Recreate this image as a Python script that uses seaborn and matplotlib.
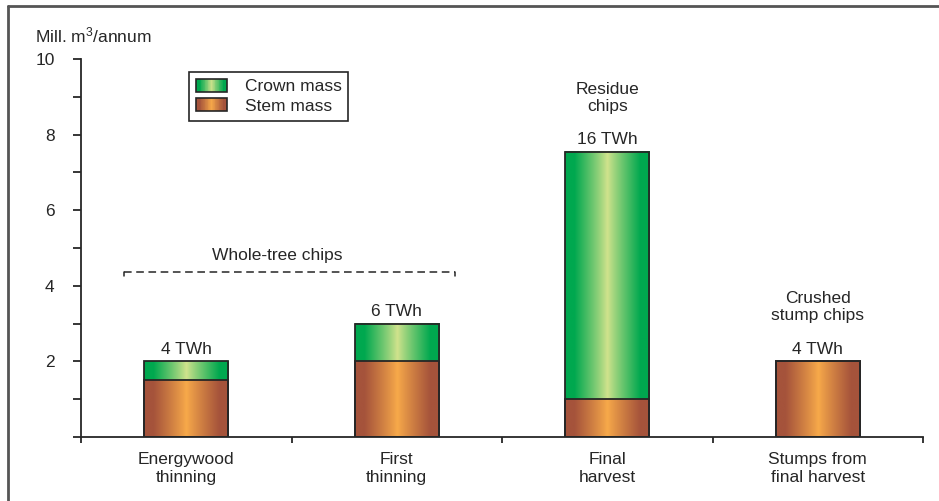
import numpy as np
import matplotlib
matplotlib.use("Agg")
import matplotlib.pyplot as plt
import seaborn as sns
import pandas as pd
from matplotlib.colors import to_rgb
from matplotlib.legend_handler import HandlerBase
from matplotlib.patches import Rectangle, Patch
from matplotlib.lines import Line2D

# ---- data -------------------------------------------------------------
categories = ["Energywood\nthinning", "First\nthinning", "Final\nharvest",
              "Stumps from\nfinal harvest"]
stem_mass = [1.5, 2.0, 1.0, 2.0]        # Mill. m3/annum
crown_mass = [0.5, 1.0, 6.55, 0.0]      # Mill. m3/annum
energy_labels = ["4 TWh", "6 TWh", "16 TWh", "4 TWh"]
y_ticks = list(range(0, 11))
y_tick_labels = ["", "", "2", "", "4", "", "6", "", "8", "", "10"]
series_names = ["Crown mass", "Stem mass"]

# ---- style ------------------------------------------------------------
sns.set_theme(style="white")
plt.rcParams["font.family"] = ["Liberation Sans", "DejaVu Sans"]
plt.rcParams["mathtext.fontset"] = "custom"
plt.rcParams["mathtext.rm"] = "Liberation Sans"
plt.rcParams["mathtext.it"] = "Liberation Sans"
INK = "#262626"
for key in ("text.color", "axes.labelcolor", "xtick.color", "ytick.color"):
    plt.rcParams[key] = INK
FS = 12.5

GREEN_EDGE, GREEN_MID = "#00a84f", "#d2e38d"
BROWN_EDGE, BROWN_MID = "#a5533b", "#f8aa4a"


def gradient_colors(edge, mid, n=200):
    """Colours across a bar: solid edge bands fading to a light centre."""
    t = np.abs(np.linspace(-1, 1, n))
    w = np.clip(t / 0.78, 0, 1) ** 0.9
    e = np.array(to_rgb(edge))
    m = np.array(to_rgb(mid))
    return m[None, :] * (1 - w[:, None]) + e[None, :] * w[:, None]


class GradientHandler(HandlerBase):
    def __init__(self, edge, mid, n=40):
        super().__init__()
        self.cols = gradient_colors(edge, mid, n)
        self.n = n

    def create_artists(self, legend, orig_handle, xdescent, ydescent,
                       width, height, fontsize, trans):
        arts = []
        step = width / self.n
        for k, c in enumerate(self.cols):
            arts.append(Rectangle((-xdescent + k * step, -ydescent),
                                  step * 1.1, height, facecolor=c,
                                  edgecolor="none", antialiased=False,
                                  transform=trans))
        arts.append(Rectangle((-xdescent, -ydescent), width, height,
                              facecolor="none", edgecolor=INK, lw=1.2,
                              transform=trans))
        return arts


# ---- figure -----------------------------------------------------------
W, H = 939, 501
fig = plt.figure(figsize=(W / 100, H / 100), dpi=100)
ax = fig.add_axes([81 / W, 1 - 437 / H, (923 - 81) / W, (437 - 59) / H])

df = pd.DataFrame({
    "category": categories,
    "total": [s + c for s, c in zip(stem_mass, crown_mass)],
    "stem": stem_mass,
})

sns.barplot(data=df, x="category", y="total", width=0.4, color=GREEN_EDGE,
            saturation=1, ax=ax)
sns.barplot(data=df, x="category", y="stem", width=0.4, color=BROWN_EDGE,
            saturation=1, ax=ax)

bars = list(ax.patches)
n = len(categories)
for i, p in enumerate(bars):
    is_stem = i >= n
    cols = gradient_colors(BROWN_EDGE, BROWN_MID) if is_stem else \
        gradient_colors(GREEN_EDGE, GREEN_MID)
    x0, y0 = p.get_x(), p.get_y()
    w, h = p.get_width(), p.get_height()
    if h <= 0:
        p.set_visible(False)
        continue
    ax.imshow(cols[None, :, :], extent=[x0, x0 + w, y0, y0 + h],
              aspect="auto", interpolation="bilinear",
              zorder=2 if is_stem else 1)
    p.set_facecolor("none")
    p.set_edgecolor(INK)
    p.set_linewidth(1.3)
    p.set_zorder(3)

# value labels above each stack
totals = df["total"].tolist()
for i, (lab, top) in enumerate(zip(energy_labels, totals)):
    ax.annotate(lab, (i, top), xytext=(0, 3), textcoords="offset points",
                ha="center", va="bottom", fontsize=FS)

ax.text(2, 8.97, "Residue\nchips", ha="center", va="center", fontsize=FS,
        linespacing=1.2)
ax.text(3, 3.44, "Crushed\nstump chips", ha="center", va="center",
        fontsize=FS, linespacing=1.2)

# bracket over the whole-tree chip categories
bx0, bx1, by, hook = -0.296, 1.277, 4.37, 0.12
ax.plot([bx0, bx1], [by, by], color=INK, lw=1.1, ls=(0, (5, 3)), zorder=4)
ax.plot([bx0, bx0], [by, by - hook], color=INK, lw=1.1, zorder=4)
ax.plot([bx1, bx1], [by, by - hook], color=INK, lw=1.1, zorder=4)
ax.text(0.43, 4.81, "Whole-tree chips", ha="center", va="center", fontsize=FS)

# axes
ax.set_xlim(-0.5, n - 0.5)
ax.set_ylim(0, 10)
ax.set_xlabel("")
ax.set_ylabel("")
sns.despine(ax=ax, top=True, right=True)
for s in ("left", "bottom"):
    ax.spines[s].set_color(INK)
    ax.spines[s].set_linewidth(1.3)

ax.set_yticks(y_ticks)
ax.set_yticklabels(y_tick_labels)
ax.tick_params(axis="y", which="major", direction="out", length=6,
               width=1.3, color=INK, pad=13, labelsize=FS, left=True)
ax.set_xticks(range(n))
ax.set_xticklabels(categories)
ax.set_xticks(np.arange(-0.5, n, 1.0), minor=True)
ax.tick_params(axis="x", which="major", length=0, pad=11, labelsize=FS)
ax.tick_params(axis="x", which="minor", direction="out", length=4.5,
               width=1.3, color=INK, bottom=True)
for t in ax.get_xticklabels():
    t.set_linespacing(1.2)

# legend with gradient swatches
handles = [Patch(label=series_names[0]), Patch(label=series_names[1])]
leg = ax.legend(handles=handles, loc="upper left",
                bbox_to_anchor=((189 - 81) / 842, (437 - 72) / 378),
                borderaxespad=0, frameon=True, fancybox=False,
                edgecolor=INK, fontsize=FS, handlelength=1.8,
                handleheight=0.75, handletextpad=1.0, labelspacing=0.22,
                borderpad=0.4,
                handler_map={handles[0]: GradientHandler(GREEN_EDGE, GREEN_MID),
                             handles[1]: GradientHandler(BROWN_EDGE, BROWN_MID)})
leg.get_frame().set_linewidth(1.2)
leg.get_frame().set_alpha(1)

# unit label and frame lines
fig.text(35 / W, 1 - 35 / H, "Mill. m$^3$/annum", ha="left", va="center",
         fontsize=FS)
fig.add_artist(Line2D([8 / W, 8 / W], [0, 1 - 6 / H],
                      transform=fig.transFigure, color="#555555", lw=2))
fig.add_artist(Line2D([8 / W, 1], [1 - 6 / H, 1 - 6 / H],
                      transform=fig.transFigure, color="#555555", lw=2))

fig.savefig("out.png", dpi=100)
